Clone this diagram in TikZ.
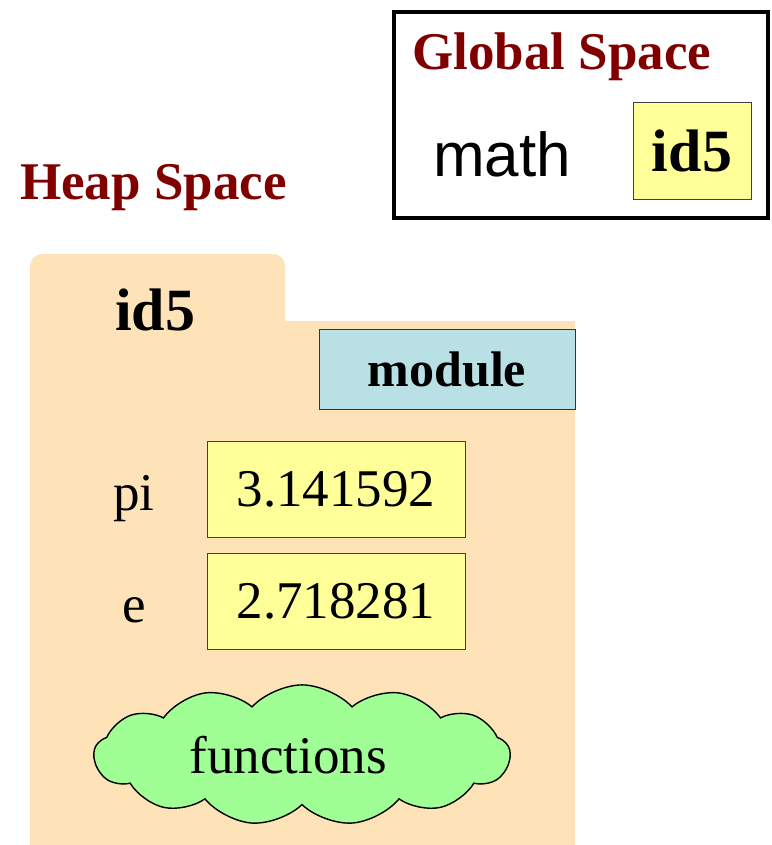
\documentclass[tikz,border=0pt]{standalone}
\usepackage{fontspec}
\setmainfont{Liberation Serif}
\newfontfamily\sanslabel{Liberation Sans}
\usepackage{tikz}
\usetikzlibrary{positioning,shapes.symbols}
\definecolor{maroon2}{RGB}{128,0,0}
\definecolor{tan2}{RGB}{254,227,184}
\definecolor{lightyellow}{RGB}{255,255,153}
\definecolor{lightteal}{RGB}{185,224,228}
\definecolor{lightgreen}{RGB}{160,255,148}
\tikzset{
  spacetitle/.style={text=maroon2, inner sep=0pt, anchor=base west,
    font=\fontsize{53}{60}\selectfont\bfseries},
  idlabel/.style={inner sep=0pt, font=\fontsize{60}{66}\selectfont\bfseries},
  varname/.style={inner sep=0pt, anchor=base west, font=\fontsize{53}{60}\selectfont},
  valuebox/.style={draw=black!75, thin, fill=lightyellow, minimum width=258pt,
    minimum height=96pt, inner sep=0pt, font=\fontsize{53}{60}\selectfont},
  typebox/.style={draw=black!80, thin, fill=lightteal, minimum width=256pt,
    minimum height=80pt, inner sep=0pt, font=\fontsize{50}{56}\selectfont\bfseries},
  funcloud/.style={cloud, cloud puffs=13, cloud puff arc=95, aspect=2.9, draw,
    line width=1.4pt, fill=lightgreen, minimum width=416pt, minimum height=140pt,
    inner sep=0pt, font=\fontsize{53}{60}\selectfont}
}
\begin{document}
\begin{tikzpicture}[x=1pt, y=-1pt]
\useasboundingbox (0,0) rectangle (771,845);

\node[draw, line width=4pt, minimum width=374pt, minimum height=206pt, anchor=north west] (global) at (392,10) {};
\node[spacetitle] (globaltitle) at (412,70) {Global Space};
\node[inner sep=0pt, anchor=base west, font=\sanslabel\fontsize{62}{68}\selectfont] (mathvar) at (433,176) {math};
\node[valuebox, idlabel, minimum width=118pt, minimum height=97pt] (mathval) at (692,150.5) {id5};

\node[spacetitle] (heaptitle) at (20,200) {Heap Space};
\fill[tan2, rounded corners=12pt] (30,254) rectangle (285,400);
\fill[tan2] (30,321) rectangle (575,845);
\node[idlabel, anchor=base west] (heapid) at (115,330) {id5};
\node[typebox] (modtype) at (447,369) {module};

\node[valuebox] (pival) at (336,489) {3.141592};
\node[valuebox, below=16pt of pival] (eval) {2.718281};
\node[varname] (pivar) at (113,510) {pi};
\node[varname] (evar) at (122,622) {e};

\node[funcloud] (funcs) at (302,755) {functions\hspace*{28pt}};
\end{tikzpicture}
\end{document}
